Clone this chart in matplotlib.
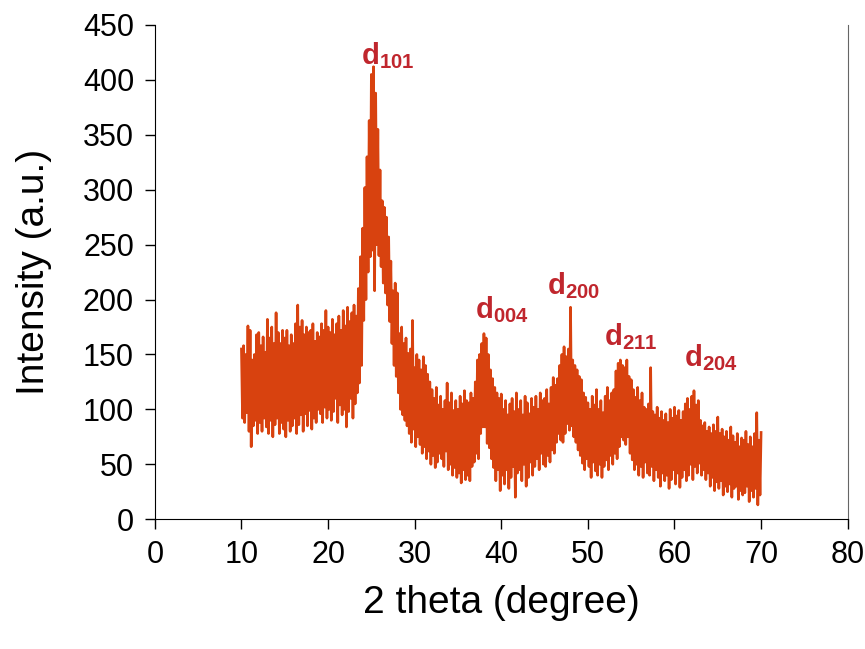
import numpy as np
import matplotlib
matplotlib.use("Agg")
import matplotlib.pyplot as plt

plt.rcParams['font.family'] = ['Liberation Sans', 'DejaVu Sans']
plt.rcParams['mathtext.fontset'] = 'custom'
plt.rcParams['mathtext.rm'] = 'Liberation Sans'
plt.rcParams['mathtext.bf'] = 'Liberation Sans:bold'

# upper / lower envelope of the noisy pattern, read every 0.25 degree from 10 to 70
hi = [155, 158, 150, 176, 172, 145, 150, 168, 170, 158, 166, 152,
      182, 165, 175, 160, 188, 170, 160, 172, 165, 172, 158, 168,
      160, 178, 195, 175, 181, 168, 175, 170, 172, 178, 162, 170,
      166, 178, 172, 190, 175, 170, 182, 168, 178, 185, 172, 190,
      176, 193, 180, 188, 195, 185, 210, 239, 265, 302, 330, 363,
      405, 412, 388, 355, 318, 290, 284, 275, 257, 235, 208, 215,
      206, 169, 175, 160, 165, 151, 155, 181, 138, 150, 145, 136,
      148, 140, 132, 125, 118, 110, 120, 104, 112, 100, 108, 124,
      106, 115, 99, 108, 100, 112, 105, 117, 108, 106, 115, 110,
      125, 145, 150, 160, 169, 165, 150, 136, 128, 120, 115, 110,
      114, 100, 108, 95, 105, 110, 98, 115, 100, 108, 95, 112,
      106, 96, 110, 102, 112, 100, 115, 108, 110, 118, 105, 120,
      129, 122, 128, 140, 150, 157, 148, 155, 193, 145, 140, 136,
      130, 127, 115, 111, 106, 100, 112, 104, 118, 100, 108, 97,
      112, 120, 108, 115, 118, 135, 142, 145, 140, 138, 145, 130,
      127, 118, 111, 120, 108, 115, 102, 100, 105, 138, 98, 95,
      102, 92, 98, 90, 96, 88, 100, 92, 102, 94, 99, 90,
      98, 105, 110, 100, 112, 117, 104, 108, 90, 85, 88, 80,
      84, 78, 86, 80, 93, 78, 82, 75, 80, 72, 84, 76,
      70, 78, 66, 74, 72, 80, 68, 75, 66, 78, 97, 72, 79]
lo = [92, 88, 97, 80, 66, 85, 90, 78, 88, 80, 92, 84,
      78, 90, 75, 86, 92, 78, 88, 82, 75, 90, 80, 85,
      92, 78, 86, 95, 80, 96, 85, 99, 82, 92, 88, 100,
      96, 88, 102, 92, 100, 90, 98, 110, 88, 104, 95, 100,
      84, 98, 110, 92, 105, 115, 124, 140, 181, 200, 225, 239,
      245, 208, 250, 240, 230, 215, 206, 195, 180, 160, 140, 130,
      115, 100, 95, 90, 85, 78, 70, 82, 66, 75, 68, 60,
      66, 55, 62, 50, 58, 47, 52, 60, 55, 48, 62, 45,
      50, 40, 47, 38, 42, 33, 45, 36, 40, 35, 48, 52,
      60, 55, 78, 84, 84, 69, 65, 55, 47, 35, 45, 26,
      40, 32, 45, 28, 38, 48, 20, 42, 45, 35, 50, 30,
      38, 52, 40, 48, 55, 45, 60, 50, 48, 58, 52, 63,
      60, 70, 78, 72, 70, 78, 87, 81, 85, 75, 70, 63,
      58, 51, 45, 55, 48, 38, 52, 44, 40, 50, 38, 48,
      54, 45, 58, 50, 60, 55, 66, 75, 72, 68, 75, 60,
      54, 45, 50, 40, 48, 38, 52, 42, 40, 48, 35, 45,
      38, 30, 42, 35, 40, 28, 36, 45, 32, 42, 29, 38,
      45, 35, 40, 50, 36, 48, 42, 51, 40, 45, 36, 42,
      30, 38, 26, 34, 28, 35, 22, 30, 25, 32, 20, 28,
      30, 18, 26, 22, 24, 30, 16, 26, 20, 28, 13, 22, 35]

peak_labels = ['101', '004', '200', '211', '204']
peak_x = [26.9, 40.1, 48.3, 55.0, 64.2]
peak_y = [422, 191, 213, 166, 147]

two_theta = 10 + 0.25 * np.arange(len(hi))
# alternate high and low readings so the trace zigzags like the scan
x = np.empty(2 * len(hi))
y = np.empty(2 * len(hi))
x[0::2] = two_theta
x[1::2] = two_theta + 0.125
y[0::2] = hi
y[1::2] = lo
x = x[:-1]
y = y[:-1]

fig = plt.figure(figsize=(8.65, 6.49), dpi=100)
ax = fig.add_axes([0.179, 0.2, 0.801, 0.7615])
ax.plot(x, y, color='#d8420f', lw=1.9)

for lab, px, py in zip(peak_labels, peak_x, peak_y):
    ax.text(px, py, r'$\mathbf{d_{' + lab + '}}$', color='#c0262d',
            fontsize=21, ha='center', va='center')

ax.set_xlim(0, 80)
ax.set_ylim(0, 450)
ax.set_xticks(np.arange(0, 81, 10))
ax.set_yticks(np.arange(0, 451, 50))
ax.tick_params(labelsize=22, length=7, width=1, direction='out', pad=8)
ax.set_xlabel('2 theta (degree)', fontsize=28, labelpad=11)
ax.set_ylabel('Intensity (a.u.)', fontsize=28, labelpad=22)
ax.spines['top'].set_visible(False)
ax.spines['right'].set_color('#666666')

fig.savefig('out.png', dpi=100)
